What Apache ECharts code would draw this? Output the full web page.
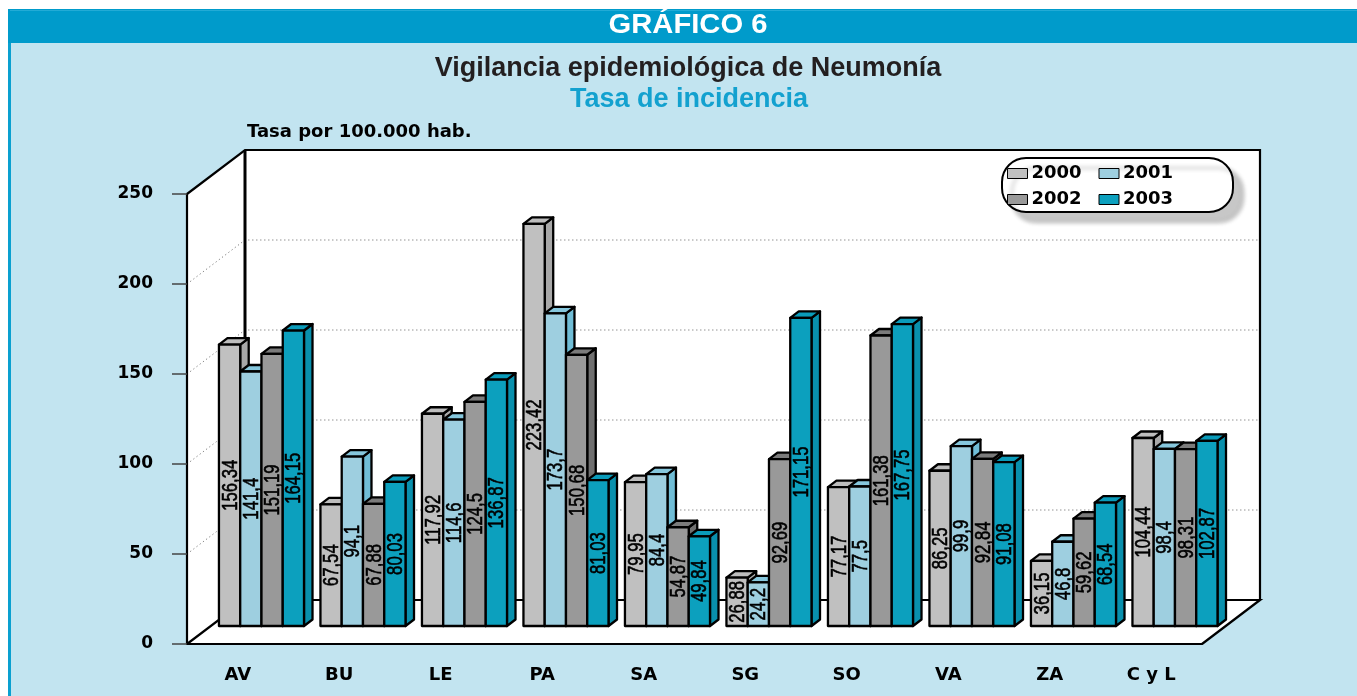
<!DOCTYPE html>
<html>
<head>
<meta charset="utf-8">
<script src="https://cdn.jsdelivr.net/npm/echarts@6/dist/echarts.min.js"></script>
<style>
html,body{margin:0;padding:0;background:#fff;}
#chart{width:1357px;height:696px;}
</style>
</head>
<body>
<div id="chart"></div>
<script>
// ---- data ----
const categories = ['AV', 'BU', 'LE', 'PA', 'SA', 'SG', 'SO', 'VA', 'ZA', 'C y L'];
const years = ['2000', '2001', '2002', '2003'];
const y2000 = [156.34, 67.54, 117.92, 223.42, 79.95, 26.88, 77.17, 86.25, 36.15, 104.44];
const y2001 = [141.4, 94.1, 114.6, 173.7, 84.4, 24.2, 77.5, 99.9, 46.8, 98.4];
const y2002 = [151.19, 67.88, 124.5, 150.68, 54.87, 92.69, 161.38, 92.84, 59.62, 98.31];
const y2003 = [164.15, 80.03, 136.87, 81.03, 49.84, 171.15, 167.75, 91.08, 68.54, 102.87];
const yTicks = [0, 50, 100, 150, 200, 250];

const seriesValues = [y2000, y2001, y2002, y2003];
const yMax = yTicks[yTicks.length - 1];

// ---- styles ----
const faceColors = [
  { front: '#c0c0c0', side: '#a8a8a8', top: '#bdbdbd' },
  { front: '#9ecfe0', side: '#70bdd6', top: '#86c7dd' },
  { front: '#999999', side: '#707070', top: '#7b7b7b' },
  { front: '#0ca0be', side: '#0990ad', top: '#0a9bba' }
];
const DEPTH_X = 58, DEPTH_Y = -44;      // floor depth
const BAR_PLANE = 18 / 44;              // bars stand at this fraction of depth
const SIDE_X = 8.5, SIDE_Y = -6.5;      // bar thickness
const BAR_FRAC = 0.2095;                // bar width as fraction of band
const labelFont = '"Liberation Sans", Arial, sans-serif';
const titleFont = '"Liberation Sans", Arial, sans-serif';
const boldFont = '"DejaVu Sans", Verdana, sans-serif';

function fmt(v) { return String(v).replace('.', ','); }

function renderFrame(params, api) {
  const band = api.size([1, 0])[0];
  const p0 = api.coord([0, 0]);
  const pN = api.coord([categories.length - 1, 0]);
  const xL = p0[0] - band / 2, xR = pN[0] + band / 2;
  const yB = p0[1], yT = api.coord([0, yMax])[1];
  const dx = DEPTH_X, dy = DEPTH_Y;
  const ch = [];
  ch.push({ type: 'polygon', shape: { points: [[xL + dx, yT + dy], [xR + dx, yT + dy], [xR + dx, yB + dy], [xL + dx, yB + dy]] }, style: { fill: '#fff' } });
  ch.push({ type: 'polygon', shape: { points: [[xL, yT], [xL + dx, yT + dy], [xL + dx, yB + dy], [xL, yB]] }, style: { fill: '#fff' } });
  ch.push({ type: 'polygon', shape: { points: [[xL, yB], [xL + dx, yB + dy], [xR + dx, yB + dy], [xR, yB]] }, style: { fill: '#fff' } });
  // gridlines
  yTicks.forEach(function (t) {
    if (t === 0 || t === yMax) return;
    const y = api.coord([0, t])[1];
    ch.push({ type: 'polyline', shape: { points: [[xL, y], [xL + dx, y + dy], [xR + dx, y + dy]] },
      style: { fill: null, stroke: '#7a7a7a', lineWidth: 1, lineDash: [1.2, 2.8] } });
  });
  const edge = { fill: null, stroke: '#000', lineWidth: 2.2 };
  ch.push({ type: 'polyline', shape: { points: [[xL, yT], [xL + dx, yT + dy], [xR + dx, yT + dy], [xR + dx, yB + dy]] }, style: edge });
  ch.push({ type: 'line', shape: { x1: xL + dx, y1: yT + dy, x2: xL + dx, y2: yB + dy }, style: { stroke: '#000', lineWidth: 3 } });
  ch.push({ type: 'polyline', shape: { points: [[xL, yB], [xL + dx, yB + dy], [xR + dx, yB + dy], [xR, yB]] }, style: edge });
  return { type: 'group', children: ch };
}

function makeBarRenderer(i) {
  return function (params, api) {
    const ci = api.value(0), v = api.value(1);
    const band = api.size([1, 0])[0];
    const base = api.coord([ci, 0]);
    const top = api.coord([ci, v]);
    const bw = band * BAR_FRAC;
    const cx = base[0] + DEPTH_X * BAR_PLANE;
    const x0 = cx - 2 * bw + i * bw;
    const yb = base[1] + DEPTH_Y * BAR_PLANE;
    const yt = top[1] + DEPTH_Y * BAR_PLANE;
    const c = faceColors[i];
    const st = { stroke: '#000', lineWidth: 2.3, lineJoin: 'round' };
    return {
      type: 'group',
      children: [
        { type: 'polygon', shape: { points: [[x0 + bw, yt], [x0 + bw + SIDE_X, yt + SIDE_Y], [x0 + bw + SIDE_X, yb + SIDE_Y], [x0 + bw, yb]] },
          style: Object.assign({ fill: c.side }, st) },
        { type: 'polygon', shape: { points: [[x0, yt], [x0 + SIDE_X, yt + SIDE_Y], [x0 + bw + SIDE_X, yt + SIDE_Y], [x0 + bw, yt]] },
          style: Object.assign({ fill: c.top }, st) },
        { type: 'rect', shape: { x: x0, y: yt, width: bw, height: yb - yt },
          style: Object.assign({ fill: c.front }, st) },
        { type: 'text', x: x0 + bw / 2 + 1, y: (yt + yb) / 2, rotation: Math.PI / 2, scaleX: 0.76,
          style: { text: fmt(v), x: 0, y: 0, align: 'center', verticalAlign: 'middle',
            fill: '#000', stroke: '#000', lineWidth: 0.6, font: '22px ' + labelFont } }
      ]
    };
  };
}

const series = [{
  type: 'custom', name: 'frame', z: 1, silent: true,
  renderItem: renderFrame, data: [[0, 0]], encode: { x: 0, y: 1 }
}];
years.forEach(function (yr, i) {
  series.push({
    type: 'custom', name: yr, z: 3,
    itemStyle: { color: faceColors[i].front },
    renderItem: makeBarRenderer(i),
    encode: { x: 0, y: 1 },
    data: seriesValues[i].map(function (v, k) { return [k, v]; })
  });
});

const chart = echarts.init(document.getElementById('chart'), null, { renderer: 'canvas' });
chart.setOption({
  animation: false,
  backgroundColor: 'transparent',
  graphic: [
    { type: 'rect', z: -100, shape: { x: 8, y: 9, width: 1349, height: 687 }, style: { fill: '#0aa0d0' } },
    { type: 'rect', z: -99, shape: { x: 11, y: 43, width: 1346, height: 653 }, style: { fill: '#c2e4f0' } },
    { type: 'rect', z: -99, shape: { x: 8, y: 9, width: 1349, height: 34 }, style: { fill: '#009bcb' } },
    { type: 'rect', z: -98, shape: { x: 10, y: 10, width: 1347, height: 1 }, style: { fill: '#22abd6' } },
    { type: 'text', z: 10, x: 688, y: 26, scaleX: 1.08, style: { text: 'GRÁFICO 6', align: 'center', verticalAlign: 'middle', fill: '#fff',
      font: 'bold 27px ' + titleFont } },
    { type: 'text', z: 10, x: 688, y: 69, style: { text: 'Vigilancia epidemiológica de Neumonía', align: 'center', verticalAlign: 'middle', fill: '#231f20',
      font: 'bold 27px ' + titleFont } },
    { type: 'text', z: 10, x: 689, y: 100, style: { text: 'Tasa de incidencia', align: 'center', verticalAlign: 'middle', fill: '#13a1cf',
      font: 'bold 27px ' + titleFont } }
  ],
  legend: {
    data: ['2000', '2001', '', '2002', '2003'],
    left: 1002, top: 158,
    orient: 'horizontal',
    icon: 'rect',
    itemWidth: 20, itemHeight: 10, itemGap: 5,
    padding: [5, 48, 2, 5],
    backgroundColor: '#fff', borderColor: '#000', borderWidth: 2, borderRadius: 24,
    shadowColor: 'rgba(0,0,0,0.22)', shadowBlur: 4, shadowOffsetX: 10, shadowOffsetY: 10,
    itemStyle: { borderColor: '#000', borderWidth: 1 },
    textStyle: { fontFamily: boldFont, fontWeight: 'bold', fontSize: 18, color: '#000', lineHeight: 21, width: 62, padding: [0, 0, 0, -1] },
    selectedMode: false
  },
  grid: { left: 187, top: 194, width: 1015, height: 450, containLabel: false },
  xAxis: {
    type: 'category', data: categories, z: 5,
    axisLine: { lineStyle: { color: '#000', width: 2.2 } },
    axisTick: { alignWithLabel: true, length: 13, lineStyle: { color: '#555', width: 1.5 } },
    axisLabel: { margin: 22, color: '#000', fontFamily: boldFont, fontWeight: 'bold', fontSize: 18 },
    splitLine: { show: false }
  },
  yAxis: {
    type: 'value', min: 0, max: yMax, interval: 50, z: 5,
    name: 'Tasa por 100.000 hab.', nameLocation: 'end', nameGap: 62,
    nameTextStyle: { align: 'left', verticalAlign: 'middle', color: '#000', fontFamily: boldFont, fontWeight: 'bold', fontSize: 18, padding: [0, 0, 0, 60] },
    axisLine: { show: true, lineStyle: { color: '#000', width: 2.2 } },
    axisTick: { show: true, length: 15, lineStyle: { color: '#444', width: 1.5 } },
    axisLabel: { margin: 34, color: '#000', fontFamily: boldFont, fontWeight: 'bold', fontSize: 17,
      formatter: function (v) { return yTicks.indexOf(v) >= 0 ? String(v) : ''; } },
    splitLine: { show: false }
  },
  series: series
});
</script>
</body>
</html>
